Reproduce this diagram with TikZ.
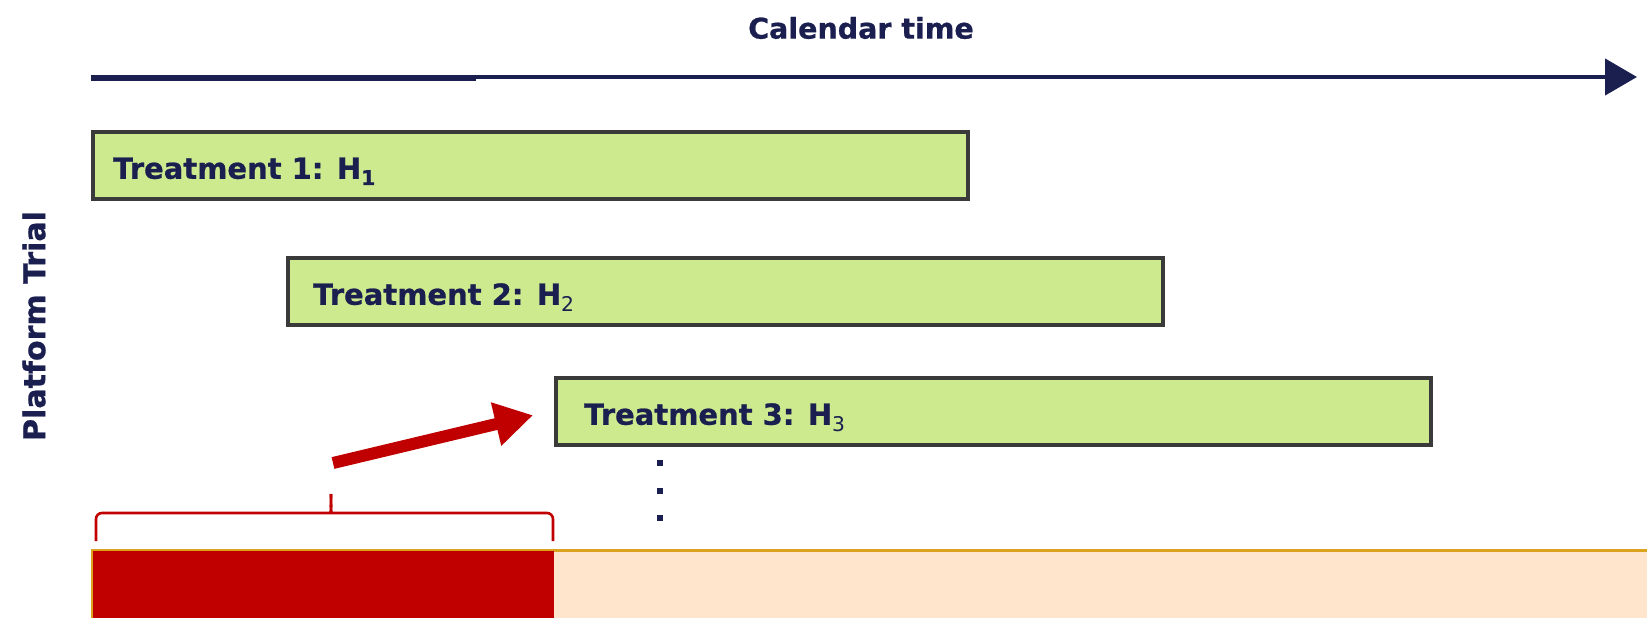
\documentclass[tikz,border=0pt]{standalone}
\usepackage{fontspec}
\setmainfont{DejaVu Sans}[BoldFeatures={FakeBold=0.8}]
\usetikzlibrary{arrows.meta,calc}
\definecolor{navy}{HTML}{1A1F50}
\definecolor{boxgreen}{HTML}{CEEA8E}
\definecolor{boxedge}{HTML}{3A3A3A}
\definecolor{darkred}{HTML}{C00000}
\definecolor{peach}{HTML}{FFE5CC}
\definecolor{gold}{HTML}{DBA21E}
\begin{document}
\begin{tikzpicture}[x=1pt,y=-1pt,
  trt/.style={draw=boxedge, line width=3.5pt, fill=boxgreen, minimum width=875pt, minimum height=67pt, anchor=north west, inner sep=0pt},
  lbl/.style={anchor=base west, text=navy, font=\fontsize{29}{34}\selectfont\bfseries, inner sep=0pt},
  ttl/.style={text=navy, font=\fontsize{28.5}{34}\selectfont\bfseries, inner sep=0pt},
  dotmark/.style={fill=navy, minimum size=6pt, inner sep=0pt, rectangle},
  bracestyle/.style={draw=darkred, line width=2.6pt, rounded corners=6pt}]
\useasboundingbox (0,0) rectangle (1647,618);
% title and axis
\node[ttl] (cal) at (861,28) {Calendar time};
\coordinate (ta) at (91,77);
\coordinate (tm) at (476,77.8);
\coordinate (tb) at (1637,77);
\draw[navy, line width=4.5pt, -{Triangle[length=32pt,width=36pt]}] (ta) -- (tb);
\draw[navy, line width=6pt] (ta |- tm) -- (tm);
\node[ttl, rotate=90, font=\fontsize{30}{34}\selectfont\bfseries] (pt) at (34,326) {Platform Trial};
% treatment boxes
\node[trt] (t1) at (91,130) {};
\node[trt] (t2) at (286,256) {};
\node[trt] (t3) at (554,376) {};
\node[lbl] (l1) at ($(t1.west)+(22,13.5)$) {Treatment 1: H\textsubscript{1}};
\node[lbl] (l2) at ($(t2.west)+(27,13.5)$) {Treatment 2: H\textsubscript{\mdseries 2}};
\node[lbl] (l3) at ($(t3.west)+(30,13.5)$) {Treatment 3: H\textsubscript{\mdseries 3}};
% dots
\node[dotmark] (d1) at (660,463) {};
\node[dotmark] (d2) at (660,491) {};
\node[dotmark] (d3) at (660,518) {};
% bottom bar
\node[draw=gold, line width=3pt, fill=peach, anchor=north west, minimum width=1600pt, minimum height=75pt, inner sep=0pt] (pbar) at (91,549) {};
\node[fill=darkred, anchor=north west, minimum width=461.5pt, minimum height=72pt, inner sep=0pt] (rbar) at (92.5,550.5) {};
% brace
\coordinate (br1) at (96,541);
\coordinate (br2) at (553,541);
\coordinate (brtip) at (331,494);
\draw[bracestyle] (br1) -- (96,513) -- (324,513) to[out=0,in=-90] (brtip);
\draw[bracestyle] (br2) -- (553,513) -- (338,513) to[out=180,in=-90] (brtip);
% red arrow
\coordinate (ra) at (333,463);
\draw[darkred, line width=12pt, -{Triangle[length=38pt,width=42pt]}] (ra) -- ($(t3.west)+(-21,4)$);
\end{tikzpicture}
\end{document}
